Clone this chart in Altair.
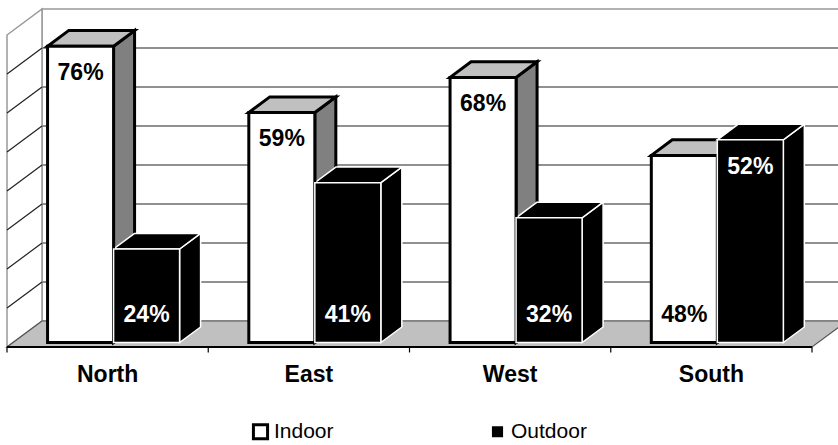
import altair as alt
import pandas as pd

# ---- data -------------------------------------------------------------
regions = ["North", "East", "West", "South"]
series_names = ["Indoor", "Outdoor"]
indoor = [76, 59, 68, 48]
outdoor = [24, 41, 32, 52]
grid_values = [10, 20, 30, 40, 50, 60, 70]
value_max = 80

# ---- oblique projection of the 3-D box --------------------------------
W, H = 838, 445
CAT_PX = 201.25          # pixels per category slot
PCT_PX = 3.9             # pixels per percentage point
ORIGIN_X, ORIGIN_Y = 7, 347
DX = 35 / CAT_PX         # floor depth, in category units
DY = 26 / PCT_PX         # floor depth, in percentage units
D0, D1 = 0.17, 0.77      # front / back of the columns as depth fractions
BAR_W = 0.328
GROUP_START = 0.172

xs = alt.Scale(domain=[-ORIGIN_X / CAT_PX, (W - ORIGIN_X) / CAT_PX], nice=False, zero=False)
ys = alt.Scale(domain=[(ORIGIN_Y - H) / PCT_PX, ORIGIN_Y / PCT_PX], nice=False, zero=False)


def X(f="x"):
    return alt.X(f"{f}:Q", scale=xs, axis=None)


def Y(f="y"):
    return alt.Y(f"{f}:Q", scale=ys, axis=None)


n_cat = len(regions)

# ---- walls and floor -------------------------------------------------
back_wall = pd.DataFrame([{"x": DX, "x2": n_cat + DX, "y": DY, "y2": value_max + DY}])
back_grid = pd.DataFrame([{"x": DX, "x2": n_cat + DX, "y": v + DY} for v in grid_values])
left_wall = pd.DataFrame([
    {"x": 0, "y": value_max, "y2": 0},
    {"x": DX, "y": value_max + DY, "y2": DY},
])
left_grid = pd.DataFrame([{"x": 0, "x2": DX, "y": v, "y2": v + DY} for v in grid_values])
floor = pd.DataFrame([
    {"y": 0, "x": 0, "x2": n_cat},
    {"y": DY, "x": DX, "x2": n_cat + DX},
])
front_edge = pd.DataFrame([{"x": 0, "x2": n_cat, "y": 0}])
ticks = pd.DataFrame([{"x": i, "y": 0, "y2": -1.4} for i in range(n_cat + 1)])

# ---- column faces ----------------------------------------------------
styles = {
    "Indoor": {"front": "white", "top": "#c0c0c0", "side": "#808080", "stroke": "black", "sw": 3.0, "label": "black"},
    "Outdoor": {"front": "black", "top": "black", "side": "black", "stroke": "white", "sw": 1.5, "label": "white"},
}

fronts, sides, tops, labels = [], [], [], []
for i, region in enumerate(regions):
    pair = {"Indoor": indoor[i], "Outdoor": outdoor[i]}
    for j, s in enumerate(series_names):
        v = pair[s]
        st = styles[s]
        bar = f"{region}-{s}"
        xl = i + GROUP_START + j * BAR_W
        xr = xl + BAR_W
        fronts.append({"series": s, "x": xl + D0 * DX, "x2": xr + D0 * DX,
                       "y": D0 * DY, "y2": v + D0 * DY, "sw": st["sw"]})
        for d in (D0, D1):
            sides.append({"bar": bar, "x": xr + d * DX, "y": v + d * DY, "y2": d * DY,
                          "fill": st["side"], "stroke": st["stroke"], "sw": st["sw"]})
            tops.append({"bar": bar, "y": v + d * DY, "x": xl + d * DX, "x2": xr + d * DX,
                         "fill": st["top"], "stroke": st["stroke"], "sw": st["sw"]})
        larger = v >= max(pair.values())
        ly = (v - 8.7) if larger else 5.3
        labels.append({"x": (xl + xr) / 2 + D0 * DX, "y": ly + D0 * DY,
                       "text": f"{v}%", "color": st["label"]})

fronts = pd.DataFrame(fronts)
sides = pd.DataFrame(sides)
tops = pd.DataFrame(tops)
labels = pd.DataFrame(labels)
cat_labels = pd.DataFrame([{"x": i + 0.5, "y": -8.97, "text": r} for i, r in enumerate(regions)])

# ---- layers ----------------------------------------------------------
wall_layer = alt.Chart(back_wall).mark_rect(
    fill="white", stroke="#999999", strokeWidth=1.5, clip=True
).encode(x=X(), x2="x2:Q", y=Y(), y2="y2:Q")

grid_layer = alt.Chart(back_grid).mark_rule(
    color="#222222", strokeWidth=1.2, clip=True
).encode(x=X(), x2="x2:Q", y=Y())

left_layer = alt.Chart(left_wall).mark_area(
    orient="vertical", fill="white", stroke="#999999", strokeWidth=1.5
).encode(x=X(), y=Y(), y2="y2:Q")

left_grid_layer = alt.Chart(left_grid).mark_rule(
    color="#222222", strokeWidth=1.2
).encode(x=X(), x2="x2:Q", y=Y(), y2="y2:Q")

floor_layer = alt.Chart(floor).mark_area(
    orient="horizontal", fill="#c0c0c0", stroke="#555555", strokeWidth=1.2, clip=True
).encode(y=Y(), x=X(), x2="x2:Q")

edge_layer = alt.Chart(front_edge).mark_rule(
    color="black", strokeWidth=2.2
).encode(x=X(), x2="x2:Q", y=Y())

tick_layer = alt.Chart(ticks).mark_rule(
    color="black", strokeWidth=1.2
).encode(x=X(), y=Y(), y2="y2:Q")

side_layer = alt.Chart(sides).mark_area(orient="vertical").encode(
    x=X(), y=Y(), y2="y2:Q", detail="bar:N",
    fill=alt.Fill("fill:N", scale=None),
    stroke=alt.Stroke("stroke:N", scale=None),
    strokeWidth=alt.StrokeWidth("sw:Q", scale=None),
)

top_layer = alt.Chart(tops).mark_area(orient="horizontal").encode(
    y=Y(), x=X(), x2="x2:Q", detail="bar:N",
    fill=alt.Fill("fill:N", scale=None),
    stroke=alt.Stroke("stroke:N", scale=None),
    strokeWidth=alt.StrokeWidth("sw:Q", scale=None),
)

legend = alt.Legend(
    title=None, orient="none", legendX=250, legendY=421, direction="horizontal",
    symbolType="square", symbolSize=200, symbolStrokeWidth=3,
    labelFont="Liberation Sans", labelFontSize=21, labelColor="black",
    labelOffset=3, columnPadding=150, padding=0,
)

front_layer = alt.Chart(fronts).mark_rect().encode(
    x=X(), x2="x2:Q", y=Y(), y2="y2:Q",
    fill=alt.Fill("series:N", scale=alt.Scale(domain=series_names, range=["white", "black"]), legend=legend),
    stroke=alt.Stroke("series:N", scale=alt.Scale(domain=series_names, range=["black", "white"]), legend=legend),
    strokeWidth=alt.StrokeWidth("sw:Q", scale=None),
)

label_layer = alt.Chart(labels).mark_text(
    font="Liberation Sans", fontWeight="bold", fontSize=23, align="center", baseline="alphabetic"
).encode(x=X(), y=Y(), text="text:N", color=alt.Color("color:N", scale=None))

cat_layer = alt.Chart(cat_labels).mark_text(
    font="Liberation Sans", fontWeight="bold", fontSize=23, align="center", baseline="alphabetic", color="black"
).encode(x=X(), y=Y(), text="text:N")

chart = alt.layer(
    wall_layer, grid_layer, left_layer, left_grid_layer, floor_layer, edge_layer, tick_layer,
    side_layer, top_layer, front_layer, label_layer, cat_layer,
).properties(
    width=W, height=H, padding=0, autosize=alt.AutoSizeParams(type="none"), background="white"
).configure_view(stroke=None)

chart.save("out.html", embed_options={"renderer": "svg", "actions": False})
